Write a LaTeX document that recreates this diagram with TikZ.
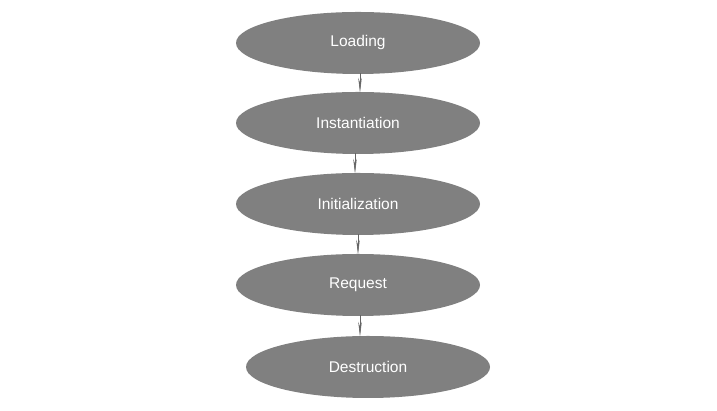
\documentclass[tikz,border=0pt]{standalone}
\usepackage{fontspec}
\setmainfont{Liberation Sans}
\usetikzlibrary{shapes.geometric,arrows.meta}
\begin{document}
\begin{tikzpicture}[x=1pt,y=1pt,
  stage/.style={ellipse, fill=stagegray, draw=none, minimum width=244pt, minimum height=62pt, inner sep=0pt, text=white, font=\fontsize{15.5}{18}\selectfont},
  link/.style={draw=linkgray, line width=0.6pt, -{Stealth[length=15pt,width=3.5pt]}, shorten <=-1pt, shorten >=-1pt}]
\definecolor{stagegray}{RGB}{128,128,128}
\definecolor{linkgray}{RGB}{100,100,100}
\useasboundingbox (0,0) rectangle (717,411);
\node[stage] (load) at (358,368) {Loading};
\node[stage] (inst) at (358,288) {Instantiation};
\node[stage] (init) at (358,207) {Initialization};
\node[stage] (req)  at (358,126) {Request};
\node[stage] (dest) at (368,44)  {Destruction};
\path[link] (load.south -| 360,0) -- (inst.north -| 360,0);
\path[link] (inst.south -| 355,0) -- (init.north -| 355,0);
\path[link] (init.south -| 358,0) -- (req.north -| 358,0);
\path[link] (req.south -| 360,0) -- (dest.north -| 360,0);
\end{tikzpicture}
\end{document}
